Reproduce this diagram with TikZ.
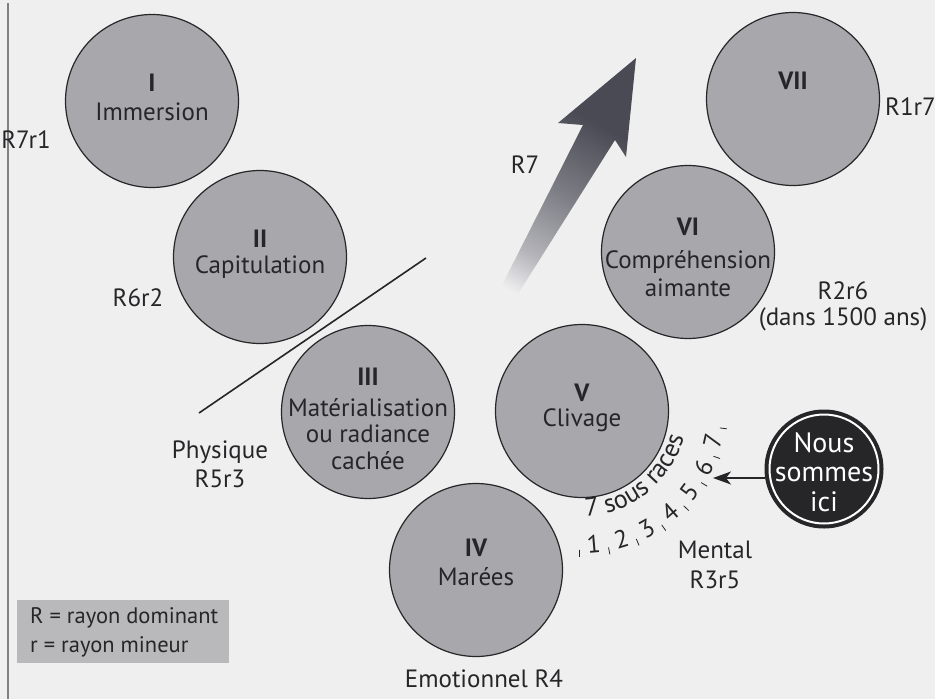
\documentclass[tikz,border=0pt]{standalone}
\usepackage{fontspec}
\setmainfont{PT Sans}
\usetikzlibrary{arrows.meta}
\definecolor{pagebg}{HTML}{EFEFF0}
\definecolor{discgray}{HTML}{A8A8AC}
\definecolor{legendgray}{HTML}{B9B9BB}
\definecolor{ink}{HTML}{262628}
\definecolor{arrowdark}{HTML}{4A4A54}
\definecolor{arrowmid}{HTML}{7E7E86}
\definecolor{arrowlight}{HTML}{B4B4BA}
\pgfdeclareverticalshading{rsevenshade}{100bp}{color(0bp)=(pagebg); color(21bp)=(pagebg); color(31bp)=(arrowlight); color(47bp)=(arrowmid); color(66bp)=(arrowdark); color(100bp)=(arrowdark)}
\newcommand\arcfont{\fontsize{26}{26}\selectfont}
\newcommand\arcchars{7,\ ,s,o,u,s,\ ,r,a,c,e,s}
\newlength\chw
\AtBeginDocument{%
  \foreach \ch [count=\n] in \arcchars {%
    \settowidth\chw{\arcfont\ch}%
    \expandafter\xdef\csname arcw\n\endcsname{\the\chw}%
  }%
}
\begin{document}
\begin{tikzpicture}[x=1pt,y=1pt,
  disc/.style={circle, draw=ink, line width=1.2pt, fill=discgray, minimum size=173pt, inner sep=0pt},
  lbl/.style={font=\fontsize{25}{29}\selectfont, text=ink, align=center, inner sep=0pt},
  numeral/.style={font=\bfseries\fontsize{25}{29}\selectfont, text=ink, inner sep=0pt},
  arcnum/.style={font=\fontsize{25}{25}\selectfont, text=ink, inner sep=0pt},
  arcletter/.style={font=\arcfont, text=ink, inner sep=0pt},
  tickmark/.style={draw=ink, line width=0.8pt},
  slash/.style={draw=ink, line width=1.6pt},
  nousdisc/.style={circle, fill=ink, draw=ink, line width=1pt, minimum size=118pt, inner sep=0pt},
  nouslbl/.style={font=\fontsize{28}{29.5}\selectfont, text=white, align=center, inner sep=0pt},
  pointer/.style={draw=ink, line width=1.5pt, -{Stealth[length=18pt,width=13pt,inset=5pt]}},
  legendbox/.style={fill=legendgray, draw=none, minimum width=212pt, minimum height=63pt, inner sep=0pt},
  pageedge/.style={draw=black!50, line width=1.5pt}
]
\useasboundingbox (0,0) rectangle (935,-699);
\fill[pagebg] (0,0) rectangle (935,-699);
\draw[pageedge] (8,-3) -- (8,-699);

% big R7 arrow
\shade[shading=rsevenshade, shading angle=-29]
  (492,-305) -- (583,-125) -- (558,-123) -- (636,-58) -- (626,-157) -- (615,-140) -- (511,-305) -- cycle;

% seven discs
\node[disc] (c1) at (152,-101) {};
\node[disc] (c2) at (260,-257) {};
\node[disc] (c3) at (368,-412) {};
\node[disc] (c4) at (476,-570) {};
\node[disc] (c5) at (582,-411) {};
\node[disc] (c6) at (688,-252) {};
\node[disc] (c7) at (793,-99) {};

% disc texts
\node[numeral] (n1) at (152,-83) {I};
\node[lbl] (t1) at (152,-112) {Immersion};
\node[numeral] (n2) at (260,-239) {II};
\node[lbl] (t2) at (260,-267) {Capitulation};
\node[numeral] (n3) at (368,-377) {III};
\node[lbl, font=\fontsize{25}{26.5}\selectfont] (t3) at (368,-434) {Matérialisation\\ou radiance\\cachée};
\node[numeral] (n4) at (476,-548) {IV};
\node[lbl] (t4) at (476,-577) {Marées};
\node[numeral] (n5) at (582,-393) {V};
\node[lbl] (t5) at (582,-420) {Clivage};
\node[numeral] (n6) at (688,-227) {VI};
\node[lbl, font=\fontsize{25}{28}\selectfont] (t6) at (688,-274) {Compréhension\\aimante};
\node[numeral] (n7) at (793,-81) {VII};

% diagonal line
\coordinate (la) at (199,-413);
\coordinate (lb) at (426,-258);
\draw[slash] (la) -- (lb);

% outside labels
\node[lbl, anchor=east] (r71) at (51,-140) {R7r1};
\node[lbl] (r62) at (138,-298) {R6r2};
\node[lbl] (r53) at (220,-464) {Physique\\R5r3};
\node[lbl] (r7) at (525,-165) {R7};
\node[lbl, anchor=east] (r17) at (936,-107) {R1r7};
\node[lbl, font=\fontsize{25}{26}\selectfont] (r26) at (843,-306) {R2r6\\(dans 1500 ans)};
\node[lbl, font=\fontsize{25}{30}\selectfont] (m35) at (715,-565) {Mental\\R3r5};
\node[lbl] (e4) at (484,-679) {Emotionnel R4};

% sub-races along the arc (letters placed one by one on a circle round disc V)
\xdef\curang{-88}
\foreach \ch [count=\n] in \arcchars {
  \pgfmathsetmacro\chwd{\csname arcw\n\endcsname}
  \pgfmathsetmacro\half{\curang + 0.5*\chwd/105*57.29578}
  \pgfmathsetmacro\nxt{\curang + \chwd/105*57.29578}
  \node[arcletter, rotate=\half+90, anchor=base] (ar\n) at ([shift={(\half:105)}]c5.center) {\ch};
  \xdef\curang{\nxt}
}
\foreach \i in {1,...,7} {
  \pgfmathsetmacro\ang{-85+12*(\i-1)}
  \pgfmathsetmacro\rot{\ang+90}
  \node[arcnum, rotate=\rot] (s\i) at ([shift={(\ang:134)}]c5.center) {\i};
}
\foreach \k in {0,...,7} {
  \pgfmathsetmacro\bng{-91+12*\k}
  \draw[tickmark] ([shift={(\bng:139)}]c5.center) -- ([shift={(\bng:146)}]c5.center);
}

% nous sommes ici
\node[nousdisc] (ici) at (824,-469) {};
\draw[white, line width=2pt] (ici.center) circle[radius=54.5];
\node[nouslbl] (icitxt) at (824,-472) {Nous\\sommes\\ici};
\coordinate (aend) at (713,-478);
\draw[pointer] (aend -| ici.west) -- (aend);

% legend
\node[legendbox] (leg) at (123,-631.5) {};
\node[lbl, font=\fontsize{22.5}{26}\selectfont, anchor=west] (leg1) at (30,-618) {R = rayon dominant};
\node[lbl, font=\fontsize{22.5}{26}\selectfont, anchor=west] (leg2) at (30,-647) {r = rayon mineur};
\end{tikzpicture}
\end{document}
